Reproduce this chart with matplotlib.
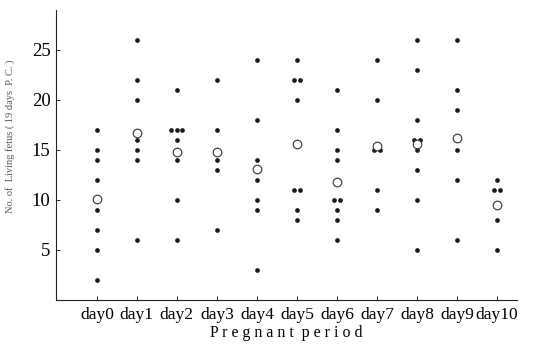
import matplotlib.pyplot as plt
from collections import Counter

days = ["day0", "day1", "day2", "day3", "day4", "day5",
        "day6", "day7", "day8", "day9", "day10"]

# living fetuses per dam, grouped by treatment day
fetus_counts = [
    [17, 15, 14, 12, 10, 9, 7, 5, 2],
    [26, 22, 20, 16, 15, 14, 6],
    [21, 17, 17, 17, 16, 15, 14, 10, 6],
    [22, 17, 14, 13, 7],
    [24, 18, 14, 12, 10, 9, 3],
    [24, 22, 22, 20, 11, 11, 9, 8],
    [21, 17, 15, 14, 10, 10, 9, 8, 6],
    [24, 20, 15, 15, 11, 9],
    [26, 23, 18, 16, 16, 15, 13, 10, 5],
    [26, 21, 19, 16, 15, 12, 6],
    [12, 11, 11, 8, 5],
]

# group means (open circles)
group_means = [10.1, 16.7, 14.8, 14.8, 13.1, 15.6, 11.8, 15.4, 15.6, 16.2, 9.5]

plt.rcParams['font.family'] = ['Liberation Serif', 'DejaVu Serif']

fig = plt.figure(figsize=(5.38, 3.48), dpi=100)
ax = fig.add_axes([56 / 538, 48 / 348, 461 / 538, 290 / 348])

for i, vals in enumerate(fetus_counts):
    # spread tied values sideways so they don't overlap
    counts = Counter(vals)
    seen = Counter()
    xs = []
    for v in vals:
        n = counts[v]
        xs.append(i + (seen[v] - (n - 1) / 2) * 0.14)
        seen[v] += 1
    ax.plot(xs, vals, 'o', color='#1a1a1a', markersize=3.4, markeredgewidth=0)

ax.plot(range(len(days)), group_means, 'o', markerfacecolor='white',
        markeredgecolor='#333333', markeredgewidth=0.8, markersize=6.2)

ax.set_xlim(-1.02, 10.5)
ax.set_ylim(0, 29)
ax.set_xticks(range(len(days)))
ax.set_xticklabels(days, fontsize=12.5)
ax.set_yticks([5, 10, 15, 20, 25])
ax.tick_params(axis='y', labelsize=13.5, direction='in', length=3, width=0.6, pad=4)
ax.tick_params(axis='x', direction='in', length=3, width=0.6, pad=5)

for s in ['top', 'right']:
    ax.spines[s].set_visible(False)
for s in ['left', 'bottom']:
    ax.spines[s].set_linewidth(0.8)
    ax.spines[s].set_color('#222222')

ax.set_xlabel("P r e g n a n t  p e r i o d", fontsize=11.5, labelpad=1.5)
ax.set_ylabel("No. of  Living fetus ( 19 days  P. C. )", fontsize=7.5, color='#555555')
ax.yaxis.set_label_coords(-0.089, 0.566)

plt.savefig("out.png", dpi=100)
